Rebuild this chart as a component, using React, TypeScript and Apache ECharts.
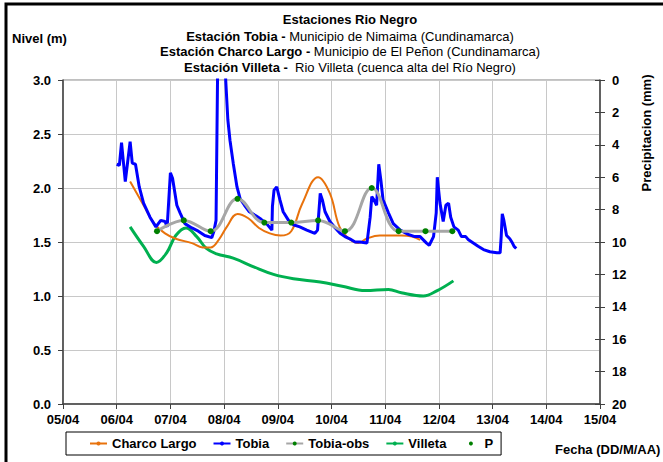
import React, { useEffect, useRef } from "react";
import * as echarts from "echarts";

const xLabels = ["05/04", "06/04", "07/04", "08/04", "09/04", "10/04", "11/04", "12/04", "13/04", "14/04", "15/04"];

const tobiaDays = [1.00,1.05,1.09,1.16,1.25,1.29,1.35,1.42,1.50,1.62,1.73,1.82,1.90,1.94,2.00,2.04,2.12,2.18,2.27,2.40,2.52,2.64,2.77,2.81,2.85,2.89,3.00,3.03,3.07,3.11,3.17,3.24,3.30,3.38,3.47,3.60,3.69,3.79,3.89,3.90,3.93,3.98,4.04,4.10,4.20,4.29,4.41,4.54,4.69,4.74,4.79,4.83,4.88,4.97,5.07,5.16,5.25,5.34,5.44,5.53,5.66,5.72,5.75,5.79,5.84,5.88,5.92,5.96,6.06,6.15,6.28,6.43,6.55,6.65,6.77,6.82,6.90,6.95,6.97,7.02,7.08,7.13,7.18,7.22,7.28,7.36,7.42,7.50,7.55,7.64,7.73,7.83,7.95,8.08,8.14,8.16,8.18,8.21,8.26,8.32,8.37,8.40,8.44];
const tobiaLevels = [2.22,2.21,2.42,2.06,2.43,2.23,2.22,2.01,1.86,1.73,1.64,1.70,1.69,1.64,2.14,2.09,1.84,1.77,1.67,1.63,1.60,1.56,1.54,1.60,1.70,3.60,3.40,3.00,2.63,2.44,2.23,2.01,1.90,1.84,1.78,1.74,1.71,1.67,1.61,1.83,1.98,2.01,1.89,1.78,1.70,1.66,1.64,1.61,1.58,1.61,1.95,1.89,1.78,1.69,1.63,1.58,1.55,1.53,1.50,1.50,1.49,1.73,1.92,1.89,1.84,2.22,2.07,1.89,1.77,1.67,1.61,1.57,1.55,1.55,1.49,1.47,1.55,1.77,2.10,1.86,1.69,1.84,1.86,1.73,1.64,1.61,1.55,1.55,1.52,1.49,1.46,1.43,1.41,1.40,1.40,1.55,1.76,1.70,1.56,1.53,1.49,1.46,1.44];

const obsDays = [1.75,2.25,2.75,3.25,3.75,4.25,4.75,5.25,5.75,6.25,6.75,7.25];
const obsLevels = [1.60,1.70,1.60,1.90,1.68,1.68,1.70,1.60,2.00,1.60,1.60,1.60];

const charcoDays = [1.25,1.50,1.70,1.90,2.10,2.40,2.60,2.75,2.90,3.05,3.25,3.45,3.65,3.85,4.05,4.25,4.45,4.75,4.97,5.15,5.35,5.50,5.65,5.90,6.30,6.50,6.65];
const charcoLevels = [2.06,1.84,1.67,1.58,1.53,1.49,1.45,1.45,1.52,1.64,1.76,1.72,1.63,1.58,1.56,1.60,1.85,2.10,1.95,1.64,1.52,1.49,1.53,1.56,1.56,1.55,1.52];

const villetaDays = [1.25,1.50,1.74,1.93,2.10,2.29,2.49,2.67,2.86,3.17,3.55,3.92,4.29,4.79,5.20,5.63,6.06,6.30,6.71,6.97,7.27];
const villetaLevels = [1.64,1.46,1.31,1.40,1.56,1.63,1.55,1.44,1.39,1.35,1.27,1.20,1.16,1.13,1.09,1.05,1.06,1.03,1.00,1.05,1.14];

const precipDays: number[] = [];
const precipValues: number[] = [];

const zip = (a: number[], b: number[]) => a.map((d, i) => [d, b[i]]);

const FONT = "'Liberation Sans', Arial, sans-serif";

export default function App() {
  const ref = useRef<HTMLDivElement>(null);
  useEffect(() => {
    document.body.style.margin = "0";
    const chart = echarts.init(ref.current!, null, { renderer: "svg" });
    const bold = { fontFamily: FONT, fontWeight: "bold" as const, fontSize: 13, fill: "#000" };
    const norm = { fontFamily: FONT, fontWeight: "normal" as const, fontSize: 13, fill: "#000" };
    const titleLine = (text: string, y: number) => ({
      type: "text",
      x: 350,
      y,
      style: {
        text,
        textAlign: "center",
        textVerticalAlign: "middle",
        rich: { b: bold, n: norm },
        ...bold,
      },
    });
    const labelStyle = { fontFamily: FONT, fontWeight: "bold", fontSize: 13, color: "#000" };
    chart.setOption({
      animation: false,
      grid: { left: 63, right: 63, top: 80, bottom: 58, show: true, borderColor: "#808080", borderWidth: 1 },
      legend: {
        left: 66,
        top: 432,
        padding: [5, 8, 5, 23],
        itemGap: 16,
        itemWidth: 17,
        itemHeight: 5,
        borderColor: "#000",
        borderWidth: 1,
        textStyle: labelStyle,
        data: ["Charco Largo", "Tobia", "Tobia-obs", "Villeta", "P"],
      },
      xAxis: {
        type: "value",
        min: 0,
        max: 10,
        interval: 1,
        axisLine: { lineStyle: { color: "#404040", width: 1.5 } },
        axisTick: { show: true, length: 5, lineStyle: { color: "#404040" } },
        axisLabel: {
          margin: 9,
          ...labelStyle,
          formatter: (v: number) => xLabels[Math.round(v)],
        },
        splitLine: { show: true, lineStyle: { color: "#c8c8c8", width: 1 } },
      },
      yAxis: [
        {
          type: "value",
          min: 0,
          max: 3,
          interval: 0.5,
          axisLine: { show: true, lineStyle: { color: "#404040", width: 1.5 } },
          axisTick: { show: true, length: 5, lineStyle: { color: "#404040" } },
          axisLabel: { margin: 12, ...labelStyle, formatter: (v: number) => v.toFixed(1) },
          splitLine: { show: true, lineStyle: { color: "#c8c8c8", width: 1 } },
        },
        {
          type: "value",
          min: 0,
          max: 20,
          interval: 2,
          inverse: true,
          position: "right",
          axisLine: { show: true, lineStyle: { color: "#404040", width: 1.5 } },
          axisTick: { show: true, length: 5, lineStyle: { color: "#404040" } },
          axisLabel: { margin: 12, ...labelStyle },
          splitLine: { show: false },
        },
        {
          type: "value",
          min: 0,
          max: 20,
          interval: 2,
          inverse: true,
          position: "right",
          axisLine: { show: false },
          axisTick: { show: true, inside: true, length: 5, lineStyle: { color: "#404040" } },
          axisLabel: { show: false },
          splitLine: { show: false },
        },
      ],
      series: [
        {
          name: "Villeta",
          type: "line",
          smooth: 0.4,
          symbol: "none",
          data: zip(villetaDays, villetaLevels),
          lineStyle: { color: "#00B050", width: 3 },
          itemStyle: { color: "#00B050" },
        },
        {
          name: "Charco Largo",
          type: "line",
          smooth: 0.4,
          symbol: "none",
          data: zip(charcoDays, charcoLevels),
          lineStyle: { color: "#E8720C", width: 2 },
          itemStyle: { color: "#E8720C" },
        },
        {
          name: "Tobia",
          type: "line",
          symbol: "none",
          clip: true,
          data: zip(tobiaDays, tobiaLevels),
          lineStyle: { color: "#0000FF", width: 3 },
          itemStyle: { color: "#0000FF" },
        },
        {
          name: "Tobia-obs",
          type: "line",
          smooth: 0.4,
          symbol: "circle",
          symbolSize: 6,
          showSymbol: true,
          data: zip(obsDays, obsLevels),
          lineStyle: { color: "#A6A6A6", width: 3 },
          itemStyle: { color: "#008000" },
        },
        {
          name: "P",
          type: "line",
          yAxisIndex: 1,
          symbol: "circle",
          symbolSize: 4,
          data: zip(precipDays, precipValues),
          lineStyle: { width: 0, color: "#008000" },
          itemStyle: { color: "#008000" },
        },
      ],
      graphic: [
        {
          type: "rect",
          shape: { x: 6, y: 4, width: 720, height: 520 },
          style: { fill: "none", stroke: "#000", lineWidth: 3 },
          silent: true,
        },
        titleLine("{b|Estaciones Rio Negro}", 19),
        titleLine("{b|Estación Tobia - }{n|Municipio de Nimaima (Cundinamarca)}", 36),
        titleLine("{b|Estación Charco Largo - }{n|Municipio de El Peñon (Cundinamarca)}", 51),
        titleLine("{b|Estación Villeta - }{n| Rio Villeta (cuenca alta del Río Negro)}", 67),
        {
          type: "text",
          x: 12,
          y: 38,
          style: { text: "Nivel (m)", textAlign: "left", textVerticalAlign: "middle", ...bold },
        },
        {
          type: "text",
          x: 646,
          y: 133,
          rotation: Math.PI / 2,
          style: { text: "Precipitacion (mm)", textAlign: "center", textVerticalAlign: "middle", ...bold },
        },
        {
          type: "text",
          x: 555,
          y: 449,
          style: { text: "Fecha (DD/M/AA)", textAlign: "left", textVerticalAlign: "middle", ...bold },
        },
      ],
    });
    return () => chart.dispose();
  }, []);
  return <div ref={ref} style={{ width: 663, height: 462 }} />;
}
